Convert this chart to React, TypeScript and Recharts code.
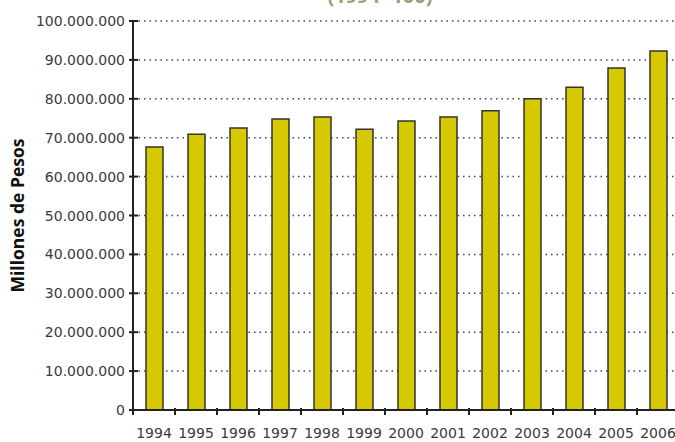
import React from 'react';
import { BarChart, Bar, XAxis, YAxis, CartesianGrid } from 'recharts';

const years = ['1994', '1995', '1996', '1997', '1998', '1999', '2000', '2001', '2002', '2003', '2004', '2005', '2006'];
const values = [67600000, 70900000, 72500000, 74800000, 75300000, 72200000, 74300000, 75300000, 76900000, 80000000, 83000000, 87900000, 92300000];
const yTicks = [0, 10000000, 20000000, 30000000, 40000000, 50000000, 60000000, 70000000, 80000000, 90000000, 100000000];

const data = years.map((year, i) => ({ year, value: values[i] }));

const fmt = (v: number) => String(v).replace(/\B(?=(\d{3})+(?!\d))/g, '.');

const FONT = '"DejaVu Sans", sans-serif';

const YTick: React.FC<any> = ({ x, y, payload }) => (
  <g>
    <line x1={x - 4} x2={x + 5} y1={y} y2={y} stroke="#222" strokeWidth={2} />
    <text x={x - 8} y={y + 5} textAnchor="end" fontSize={14} fontFamily={FONT} fill="#3a3a3a">
      {fmt(payload.value)}
    </text>
  </g>
);

const XTick: React.FC<any> = ({ x, y, payload, index }) => (
  <g>
    <line x1={x - 21} x2={x - 21} y1={y - 2} y2={y + 5} stroke="#222" strokeWidth={2} />
    {index === years.length - 1 && (
      <line x1={x + 21} x2={x + 21} y1={y - 2} y2={y + 5} stroke="#222" strokeWidth={2} />
    )}
    <text x={x} y={y + 28} textAnchor="middle" fontSize={14} fontFamily={FONT} fill="#3a3a3a">
      {payload.value}
    </text>
  </g>
);

const YLabel: React.FC<any> = ({ viewBox }) => {
  const cy = viewBox.y + viewBox.height / 2;
  return (
    <text
      x={17}
      y={cy}
      transform={`rotate(-90, 17, ${cy})`}
      textAnchor="middle"
      dominantBaseline="central"
      fontSize={17.5}
      fontWeight="bold"
      fontFamily='"Open Sans", sans-serif'
      fill="#111"
    >
      Millones de Pesos
    </text>
  );
};

const App: React.FC = () => {
  return (
    <div style={{ position: 'absolute', left: 0, top: 0, width: 675, height: 442, overflow: 'hidden', background: '#fff' }}>
      <svg width={700} height={30} style={{ position: 'absolute', left: 0, top: 0 }}>
        <text x={380} y={3} textAnchor="middle" fontSize={20} fontWeight="bold" fontFamily='"Open Sans", sans-serif' fill="#a19c76">
          (1994=100)
        </text>
      </svg>
      <div style={{ position: 'absolute', left: 0, top: 0 }}>
        <BarChart width={700} height={442} data={data} margin={{ top: 21, right: 21, left: 0, bottom: 0 }} barSize={17}>
          <CartesianGrid vertical={false} stroke="#444" strokeDasharray="1.5 4" strokeWidth={1.5} />
          <XAxis
            dataKey="year"
            height={32}
            tickSize={0}
            tickMargin={0}
            tickLine={false}
            interval={0}
            axisLine={{ stroke: '#222', strokeWidth: 2 }}
            tick={<XTick />}
          />
          <YAxis
            width={133}
            domain={[0, 100000000]}
            ticks={yTicks}
            interval={0}
            tickSize={0}
            tickMargin={0}
            tickLine={false}
            axisLine={{ stroke: '#222', strokeWidth: 2 }}
            tick={<YTick />}
            label={<YLabel />}
          />
          <Bar dataKey="value" fill="#d6c900" stroke="#333" strokeWidth={1.5} isAnimationActive={false} />
        </BarChart>
      </div>
    </div>
  );
};

export default App;
